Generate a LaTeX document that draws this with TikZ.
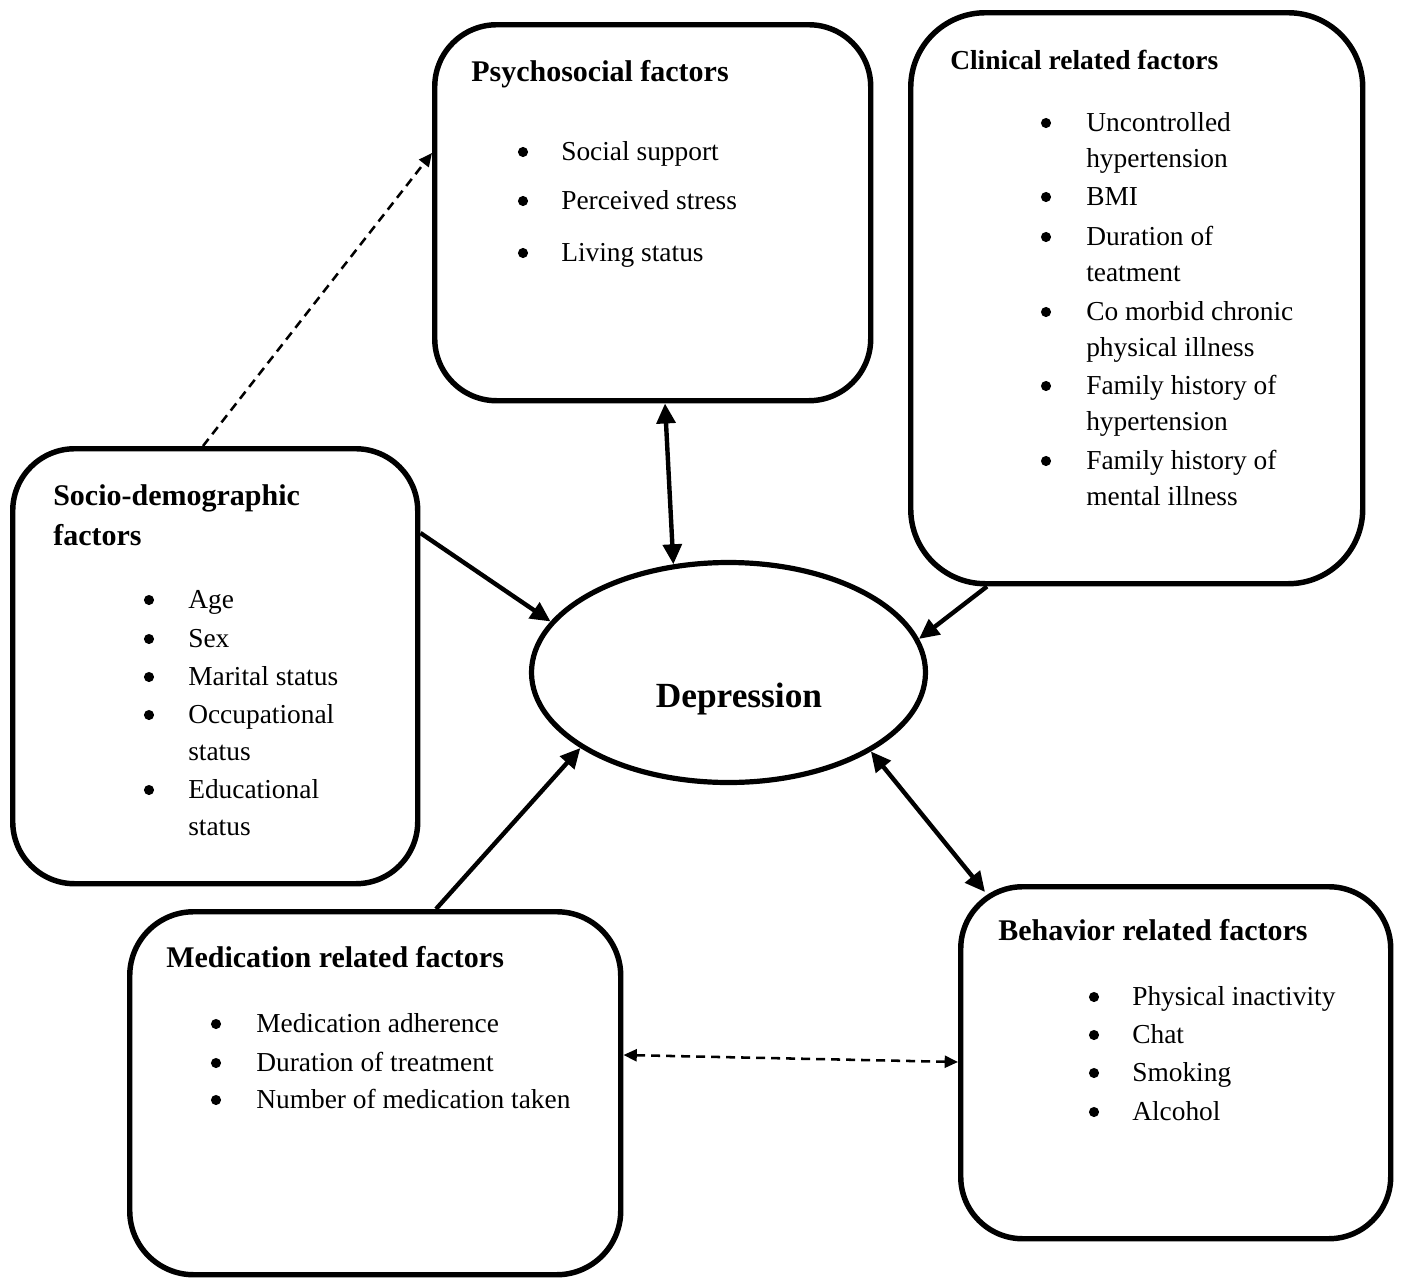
\documentclass[tikz,border=0pt]{standalone}
\usepackage{fontspec}
\setmainfont{Liberation Serif}
\usetikzlibrary{shapes.geometric,arrows.meta,calc}
\begin{document}
\begin{tikzpicture}[x=0.75pt,y=-0.75pt,
  box/.style={draw,line width=4.1pt,rounded corners=46.5pt,inner sep=0pt,anchor=north west},
  txt/.style={anchor=base west,inner sep=0pt,font=\fontsize{20.55pt}{24pt}\selectfont},
  dot/.style={circle,fill,inner sep=0pt,minimum size=7.6pt},
  head/.style={anchor=base west,inner sep=0pt,font=\fontsize{22.5pt}{27pt}\selectfont\bfseries},
  arr/.style={line width=3.3pt,-{Triangle[length=15pt,width=14pt]}},
  darr/.style={line width=3.3pt,{Triangle[length=15pt,width=14pt]}-{Triangle[length=15pt,width=14pt]}},
  dsh/.style={line width=1.9pt,dash pattern=on 6.75pt off 4.5pt,-{Triangle[length=10pt,width=9pt]}},
  ddsh/.style={line width=1.9pt,dash pattern=on 6.75pt off 4.5pt,{Triangle[length=10pt,width=9pt]}-{Triangle[length=10pt,width=9pt]}}
]
\useasboundingbox (0,0) rectangle (1404,1278);

% boxes
\node[box,minimum width=436*0.75pt,minimum height=376*0.75pt] (psy) at (432,22) {};
\node[box,minimum width=452*0.75pt,minimum height=571*0.75pt,rounded corners=56pt] (cli) at (908,10) {};
\node[box,minimum width=405*0.75pt,minimum height=435*0.75pt] (soc) at (10,446) {};
\node[box,minimum width=491*0.75pt,minimum height=363*0.75pt,rounded corners=48pt] (med) at (127,909) {};
\node[box,minimum width=430*0.75pt,minimum height=352*0.75pt] (beh) at (958,884) {};

% ellipse
\node[draw,ellipse,line width=3.9pt,inner sep=0pt,minimum width=394*0.75pt,minimum height=220*0.75pt] (dep) at (728.5,672.5) {};
\node[anchor=base,inner sep=0pt,font=\fontsize{26.5pt}{30pt}\selectfont\bfseries] (deptxt) at (739,707) {Depression};

% Psychosocial
\node[head] (psyh) at (471,81) {Psychosocial factors};
\node[dot] (psyb1) at (523,152) {};
\node[dot] (psyb2) at (523,201) {};
\node[dot] (psyb3) at (523,253) {};
\node[txt] (psy1) at (561,160) {Social support};
\node[txt] (psy2) at (561,209) {Perceived stress};
\node[txt] (psy3) at (561,261) {Living status};

% Clinical
\node[head,font=\fontsize{20.6pt}{24pt}\selectfont\bfseries] (clih) at (950,69) {Clinical related factors};
\node[dot] (clib1) at (1046,123) {};
\node[dot] (clib2) at (1046,197) {};
\node[dot] (clib3) at (1046,237) {};
\node[dot] (clib4) at (1046,312) {};
\node[dot] (clib5) at (1046,386) {};
\node[dot] (clib6) at (1046,461) {};
\node[txt] (cli1) at (1086,131) {Uncontrolled};
\node[txt] (cli1b) at (1086,167) {hypertension};
\node[txt] (cli2) at (1086,205) {BMI};
\node[txt] (cli3) at (1086,245) {Duration of};
\node[txt] (cli3b) at (1086,281) {teatment};
\node[txt] (cli4) at (1086,320) {Co morbid chronic};
\node[txt] (cli4b) at (1086,356) {physical illness};
\node[txt] (cli5) at (1086,394) {Family history of};
\node[txt] (cli5b) at (1086,430) {hypertension};
\node[txt] (cli6) at (1086,469) {Family history of};
\node[txt] (cli6b) at (1086,505) {mental illness};

% Socio-demographic
\node[head] (soch1) at (53,505) {Socio-demographic};
\node[head] (soch2) at (53,545) {factors};
\node[dot] (socb1) at (149,600) {};
\node[dot] (socb2) at (149,639) {};
\node[dot] (socb3) at (149,677) {};
\node[dot] (socb4) at (149,715) {};
\node[dot] (socb5) at (149,790) {};
\node[txt] (soc1) at (188,608) {Age};
\node[txt] (soc2) at (188,647) {Sex};
\node[txt] (soc3) at (188,685) {Marital status};
\node[txt] (soc4) at (188,723) {Occupational};
\node[txt] (soc4b) at (188,760) {status};
\node[txt] (soc5) at (188,798) {Educational};
\node[txt] (soc5b) at (188,835) {status};

% Medication
\node[head] (medh) at (166,967) {Medication related factors};
\node[dot] (medb1) at (216,1024) {};
\node[dot] (medb2) at (216,1063) {};
\node[dot] (medb3) at (216,1100) {};
\node[txt] (med1) at (256,1032) {Medication adherence};
\node[txt] (med2) at (256,1071) {Duration of treatment};
\node[txt] (med3) at (256,1108) {Number of medication taken};

% Behavior
\node[head] (behh) at (998,940) {Behavior related factors};
\node[dot] (behb1) at (1094,997) {};
\node[dot] (behb2) at (1094,1035) {};
\node[dot] (behb3) at (1094,1073) {};
\node[dot] (behb4) at (1094,1112) {};
\node[txt] (beh1) at (1132,1005) {Physical inactivity};
\node[txt] (beh2) at (1132,1043) {Chat};
\node[txt] (beh3) at (1132,1081) {Smoking};
\node[txt] (beh4) at (1132,1120) {Alcohol};

% connectors
\draw[arr] ($(soc.north east)+(0,87)$) -- (dep.164.45);
\draw[darr] ($(psy.south west)+(233,0)$) -- (dep.117.5);
\draw[arr] ($(cli.south west)+(79,0)$) -- (dep.10.95);
\draw[arr] ($(med.north west)+(309,0)$) -- (dep.207.6);
\draw[darr] (dep.331.5) -- ($(beh.north west)+(27,8)$);
\draw[dsh] ($(soc.north west)+(193,0)$) -- ($(psy.north west)+(0,131)$);
\draw[ddsh] ($(med.north east)+(0,146)$) -- ($(beh.north west)+(0,178)$);
\end{tikzpicture}
\end{document}
